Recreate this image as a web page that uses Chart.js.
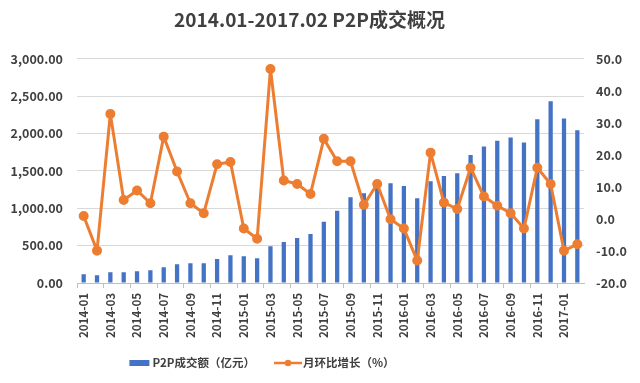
<!DOCTYPE html>
<html>
<head>
<meta charset="utf-8">
<script src="https://cdn.jsdelivr.net/npm/chart.js@4.4.1/dist/chart.umd.min.js"></script>
<style>
html,body{margin:0;padding:0;background:#fff;}
#wrap{width:640px;height:383px;position:relative;}
</style>
</head>
<body>
<div id="wrap"><canvas id="c" width="640" height="383"></canvas></div>
<script>
const categories = ["2014-01","2014-02","2014-03","2014-04","2014-05","2014-06","2014-07","2014-08","2014-09","2014-10","2014-11","2014-12",
"2015-01","2015-02","2015-03","2015-04","2015-05","2015-06","2015-07","2015-08","2015-09","2015-10","2015-11","2015-12",
"2016-01","2016-02","2016-03","2016-04","2016-05","2016-06","2016-07","2016-08","2016-09","2016-10","2016-11","2016-12",
"2017-01","2017-02"];
const volume = [116,103,143,143,156,170,210,250,263,263,321,371,
357,330,491,549,602,656,821,968,1147,1201,1303,1335,
1299,1134,1362,1433,1469,1714,1825,1905,1946,1879,2192,2433,
2200,2044];
const growth = [0.9,-9.9,32.8,5.9,8.9,4.9,25.7,14.8,4.9,1.8,17.1,17.8,
-3.0,-6.2,46.8,12.0,10.9,7.8,25.0,18.0,18.0,4.4,10.9,-0.1,
-3.0,-13.0,20.7,5.1,3.1,16.0,7.0,4.1,1.8,-3.0,16.0,10.9,
-9.9,-7.9];
const seriesNames = ["P2P成交额（亿元）","月环比增长（%）"];
const titleText = "2014.01-2017.02 P2P成交概况";

const BLUE = "#4472C4", ORANGE = "#ED7D31";
const FONT = "'Noto Sans CJK SC', 'Liberation Sans', sans-serif";

// shift title slightly left like the original
const titleShift = {
  id: 'titleShift',
  afterLayout(chart){
    const t = chart.titleBlock; if(!t) return;
    t.left -= 9; t.right -= 9;
  }
};

// legend drawn below the axis labels (bar swatch + line-with-marker swatch)
const customLegend = {
  id: 'customLegend',
  afterDraw(chart){
    const ctx = chart.ctx;
    ctx.save();
    ctx.font = "bold 11.5px " + FONT;
    const w1 = ctx.measureText(seriesNames[0]).width;
    const w2 = ctx.measureText(seriesNames[1]).width;
    const total = 20 + 3 + w1 + 19 + 28 + 1 + w2;
    let x = 262 - total / 2;
    const cy = chart.chartArea.bottom + 80;
    ctx.fillStyle = BLUE;
    ctx.fillRect(x, cy - 3, 20, 6);
    x += 23;
    ctx.fillStyle = '#404040';
    ctx.textBaseline = 'middle';
    ctx.textAlign = 'left';
    ctx.fillText(seriesNames[0], x, cy);
    x += w1 + 19;
    ctx.strokeStyle = ORANGE; ctx.lineWidth = 2.5;
    ctx.beginPath(); ctx.moveTo(x, cy); ctx.lineTo(x + 28, cy); ctx.stroke();
    ctx.fillStyle = ORANGE;
    ctx.beginPath(); ctx.arc(x + 14, cy, 3.2, 0, Math.PI * 2); ctx.fill();
    x += 29;
    ctx.fillStyle = '#404040';
    ctx.fillText(seriesNames[1], x, cy);
    ctx.restore();
  }
};

new Chart(document.getElementById('c'), {
  plugins: [titleShift, customLegend],
  data: {
    labels: categories,
    datasets: [
      { type:'line', label: seriesNames[1], data: growth, yAxisID:'y1', borderColor: ORANGE, backgroundColor: ORANGE,
        borderWidth: 3, borderJoinStyle: 'round', borderCapStyle: 'round', pointRadius: 3.5, pointHoverRadius: 3.5, tension: 0, order: 0 },
      { type:'bar', label: seriesNames[0], data: volume, yAxisID:'y', backgroundColor: BLUE,
        barPercentage: 0.32, categoryPercentage: 1.0, order: 1 }
    ]
  },
  options: {
    responsive: false, animation: false, devicePixelRatio: 1,
    layout: { padding: { left: 4, right: 7, top: 4, bottom: 34 } },
    plugins: {
      title: { display: true, text: titleText, color: '#404040', font: { family: FONT, size: 19, weight: 'bold' }, padding: { top: 4, bottom: 28 } },
      tooltip: { enabled: false },
      legend: { display: false }
    },
    scales: {
      x: {
        offset: true,
        afterFit: (s) => { s.height = 66; },
        grid: { display: true, drawOnChartArea: false, tickLength: 5, offset: true,
          color: (ctx) => (ctx.index % 2 === 0 ? '#bfbfbf' : 'rgba(0,0,0,0)') },
        border: { color: '#bfbfbf' },
        ticks: { autoSkip: false, maxRotation: 90, minRotation: 90, color: '#404040', padding: 5,
          font: { family: FONT, size: 11.5, weight: 'bold' },
          callback: function(v, i){ return i % 2 === 0 ? this.getLabelForValue(v) : ''; } }
      },
      y: {
        position: 'left', min: 0, max: 3000,
        afterFit: (s) => { s.width = 73; },
        grid: { color: '#d9d9d9', drawTicks: false },
        border: { display: false },
        ticks: { stepSize: 500, color: '#404040', padding: 14, font: { family: FONT, size: 12.5, weight: 'bold' },
          callback: v => v.toLocaleString('en-US', { minimumFractionDigits: 2, maximumFractionDigits: 2 }) }
      },
      y1: {
        position: 'right', min: -20, max: 50,
        afterFit: (s) => { s.width = 49; },
        grid: { drawOnChartArea: false, drawTicks: false },
        border: { display: false },
        ticks: { stepSize: 10, color: '#404040', padding: 12, font: { family: FONT, size: 12.5, weight: 'bold' },
          callback: v => v.toFixed(1) }
      }
    }
  }
});
</script>
</body>
</html>
